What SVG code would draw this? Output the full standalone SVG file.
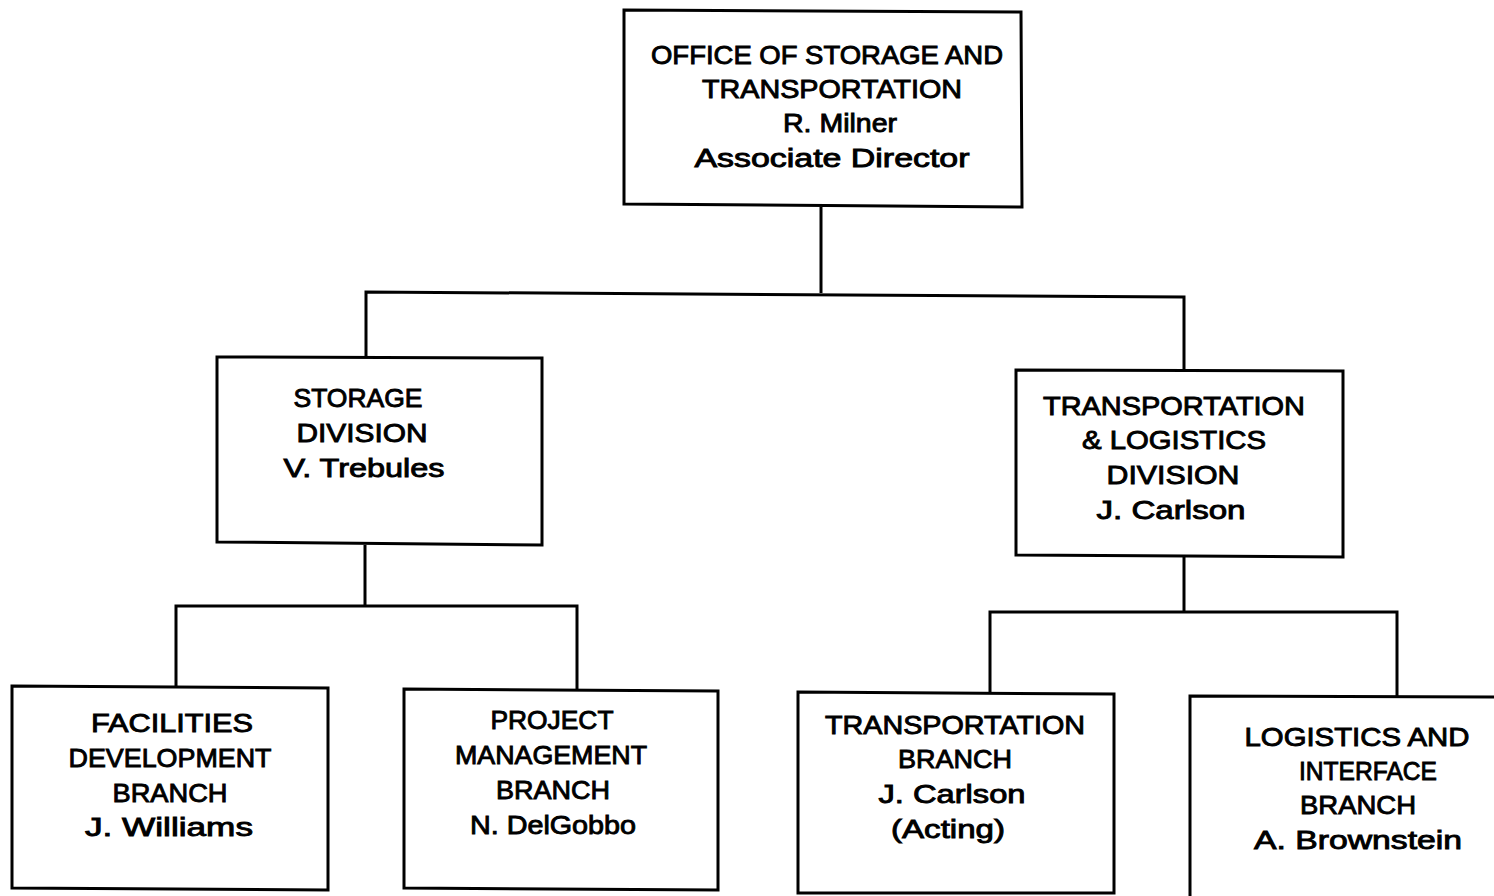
<svg xmlns="http://www.w3.org/2000/svg" width="1494" height="896" viewBox="0 0 1494 896">
<style>
.box{fill:#fff;stroke:#000;stroke-width:3}
.ln{fill:none;stroke:#000;stroke-width:3}
text{font-family:"Liberation Sans",Arial,sans-serif;font-size:26px;fill:#000;stroke:#000;stroke-width:0.9;text-anchor:middle}
</style>
<rect width="1494" height="896" fill="#fff"/>
<g id="connectors">
<path class="ln" d="M821,207 V293"/>
<path class="ln" d="M366,357 V292 L1184,297 V370"/>
<path class="ln" d="M365,545 V607"/>
<path class="ln" d="M176,687 V606 H577 V690"/>
<path class="ln" d="M1184,556 V613"/>
<path class="ln" d="M990,693 V612 H1397 V697"/>
</g>
<g id="office">
<path class="box" d="M624,10 L1021,12 L1022,207 L624,204 Z"/>
<text x="827" y="64" textLength="352" lengthAdjust="spacingAndGlyphs">OFFICE OF STORAGE AND</text>
<text x="832" y="98" textLength="260" lengthAdjust="spacingAndGlyphs">TRANSPORTATION</text>
<text x="840" y="132" textLength="114" lengthAdjust="spacingAndGlyphs">R. Milner</text>
<text x="832" y="167" textLength="275" lengthAdjust="spacingAndGlyphs">Associate Director</text>
</g>
<g id="storage">
<path class="box" d="M217,357 L542,358 L542,545 L217,542 Z"/>
<text x="358" y="407" textLength="129" lengthAdjust="spacingAndGlyphs">STORAGE</text>
<text x="362" y="442" textLength="131" lengthAdjust="spacingAndGlyphs">DIVISION</text>
<text x="364" y="477" textLength="161" lengthAdjust="spacingAndGlyphs">V. Trebules</text>
</g>
<g id="transport-logistics">
<path class="box" d="M1016,370 L1343,371 L1343,557 L1016,555 Z"/>
<text x="1174" y="415" textLength="262" lengthAdjust="spacingAndGlyphs">TRANSPORTATION</text>
<text x="1174" y="449" textLength="184" lengthAdjust="spacingAndGlyphs">&amp; LOGISTICS</text>
<text x="1173" y="484" textLength="133" lengthAdjust="spacingAndGlyphs">DIVISION</text>
<text x="1171" y="519" textLength="149" lengthAdjust="spacingAndGlyphs">J. Carlson</text>
</g>
<g id="facilities">
<path class="box" d="M12,686 L328,688 L328,890 L12,888 Z"/>
<text x="172" y="732" textLength="162" lengthAdjust="spacingAndGlyphs">FACILITIES</text>
<text x="170" y="767" textLength="203" lengthAdjust="spacingAndGlyphs">DEVELOPMENT</text>
<text x="170" y="802" textLength="115" lengthAdjust="spacingAndGlyphs">BRANCH</text>
<text x="169" y="836" textLength="168" lengthAdjust="spacingAndGlyphs">J. Williams</text>
</g>
<g id="project">
<path class="box" d="M404,689 L718,691 L718,890 L404,888 Z"/>
<text x="552" y="729" textLength="123" lengthAdjust="spacingAndGlyphs">PROJECT</text>
<text x="551" y="764" textLength="192" lengthAdjust="spacingAndGlyphs">MANAGEMENT</text>
<text x="553" y="799" textLength="114" lengthAdjust="spacingAndGlyphs">BRANCH</text>
<text x="553" y="834" textLength="166" lengthAdjust="spacingAndGlyphs">N. DelGobbo</text>
</g>
<g id="transport-branch">
<path class="box" d="M798,692 L1114,694 L1114,893 L798,893 Z"/>
<text x="955" y="734" textLength="260" lengthAdjust="spacingAndGlyphs">TRANSPORTATION</text>
<text x="955" y="768" textLength="114" lengthAdjust="spacingAndGlyphs">BRANCH</text>
<text x="952" y="803" textLength="147" lengthAdjust="spacingAndGlyphs">J. Carlson</text>
<text x="948" y="838" textLength="114" lengthAdjust="spacingAndGlyphs">(Acting)</text>
</g>
<g id="logistics-interface">
<path class="box" d="M1496,697 L1190,696 L1190,898"/>
<text x="1357" y="746" textLength="225" lengthAdjust="spacingAndGlyphs">LOGISTICS AND</text>
<text x="1368" y="780" textLength="138" lengthAdjust="spacingAndGlyphs">INTERFACE</text>
<text x="1358" y="814" textLength="116" lengthAdjust="spacingAndGlyphs">BRANCH</text>
<text x="1358" y="849" textLength="208" lengthAdjust="spacingAndGlyphs">A. Brownstein</text>
</g>
</svg>
